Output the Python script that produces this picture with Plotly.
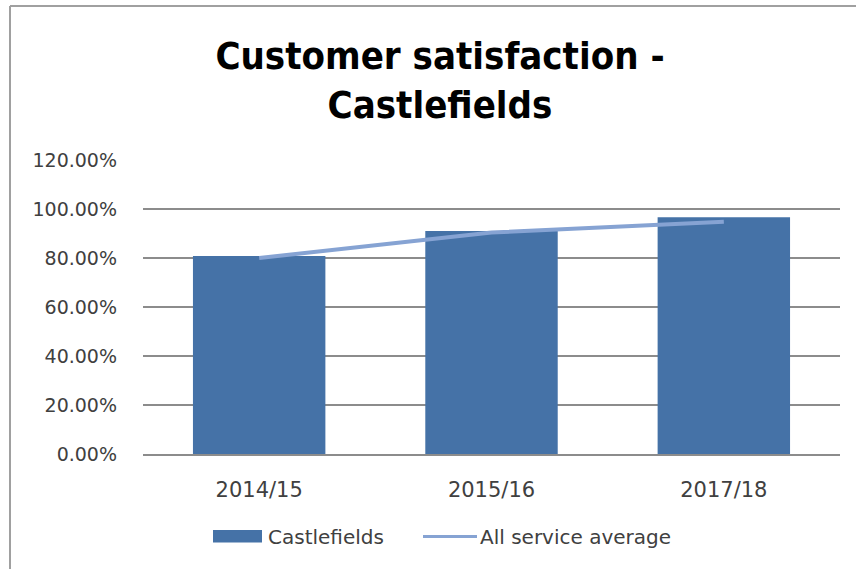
import plotly.graph_objects as go

# Survey results by year
years = ["2014/15", "2015/16", "2017/18"]
castlefields = [0.808, 0.910, 0.966]
service_average = [0.800, 0.904, 0.948]
tick_vals = [0, 0.2, 0.4, 0.6, 0.8, 1.0, 1.2]
tick_text = ["0.00%", "20.00%", "40.00%", "60.00%", "80.00%", "100.00%", "120.00%"]
series_names = ["Castlefields", "All service average"]

BAR_COLOR = "#4572a7"
LINE_COLOR = "#86a3d3"
TEXT_COLOR = "#404040"
NARROW = "DejaVu Sans Condensed, Liberation Sans Narrow, Arial Narrow, sans-serif"
WIDE = "DejaVu Sans, Verdana, sans-serif"

W, H = 856, 569
L, R, T, B = 143, 16, 160, 115
PW, PH = W - L - R, H - T - B


def px_x(x):
    """Pixel column -> paper x."""
    return (x - L) / PW


def px_y(y):
    """Pixel row -> paper y."""
    return (H - B - y) / PH


fig = go.Figure()
fig.add_trace(go.Bar(
    x=years, y=castlefields, name=series_names[0],
    marker=dict(color=BAR_COLOR, line=dict(width=0)),
    showlegend=False,
))
fig.add_trace(go.Scatter(
    x=years, y=service_average, name=series_names[1],
    mode="lines", line=dict(color=LINE_COLOR, width=4),
    showlegend=False,
))

# Legend drawn below the plot: wide swatch for the bars, line sample for the average
legend_y = 536.5
shapes = [
    dict(type="rect", xref="paper", yref="paper",
         x0=px_x(213), x1=px_x(262), y0=px_y(542.5), y1=px_y(530),
         fillcolor=BAR_COLOR, line=dict(width=0)),
    dict(type="line", xref="paper", yref="paper",
         x0=px_x(423), x1=px_x(477), y0=px_y(legend_y), y1=px_y(legend_y),
         line=dict(color=LINE_COLOR, width=3)),
    # frame (top and left edges)
    dict(type="line", xref="paper", yref="paper",
         x0=px_x(10), x1=px_x(W), y0=px_y(6), y1=px_y(6),
         line=dict(color="#a0a0a0", width=2)),
    dict(type="line", xref="paper", yref="paper",
         x0=px_x(10), x1=px_x(10), y0=px_y(6), y1=px_y(H),
         line=dict(color="#a0a0a0", width=2)),
]
annotations = [
    dict(text=series_names[0], xref="paper", yref="paper",
         x=px_x(266), y=px_y(legend_y), xanchor="left", yanchor="middle",
         showarrow=False, font=dict(size=20, family=WIDE, color=TEXT_COLOR)),
    dict(text=series_names[1], xref="paper", yref="paper",
         x=px_x(478), y=px_y(legend_y), xanchor="left", yanchor="middle",
         showarrow=False, font=dict(size=20, family=WIDE, color=TEXT_COLOR)),
]

fig.update_layout(
    width=W, height=H,
    margin=dict(l=L, r=R, t=T, b=B),
    paper_bgcolor="white", plot_bgcolor="white",
    bargap=0.43,
    font=dict(family=WIDE, color=TEXT_COLOR),
    title=dict(
        text="<b>Customer satisfaction -<br>Castlefields</b>",
        x=440 / W, xanchor="center", y=1 - 69 / H, yanchor="middle",
        font=dict(size=38, color="#000000", family=NARROW),
    ),
    xaxis=dict(
        showgrid=False, ticks="", showline=True, linecolor="#8c8c8c", linewidth=2,
        tickfont=dict(size=21, family=WIDE),
        ticklabelstandoff=16,
    ),
    yaxis=dict(
        range=[0, 1.2], tickvals=tick_vals, ticktext=tick_text,
        showgrid=True, gridcolor="#8c8c8c", gridwidth=1.5,
        zeroline=False, showline=False, ticks="",
        tickfont=dict(size=19, family=WIDE),
        ticklabelstandoff=25,
    ),
    shapes=shapes,
    annotations=annotations,
)

fig.write_html("out.html")
